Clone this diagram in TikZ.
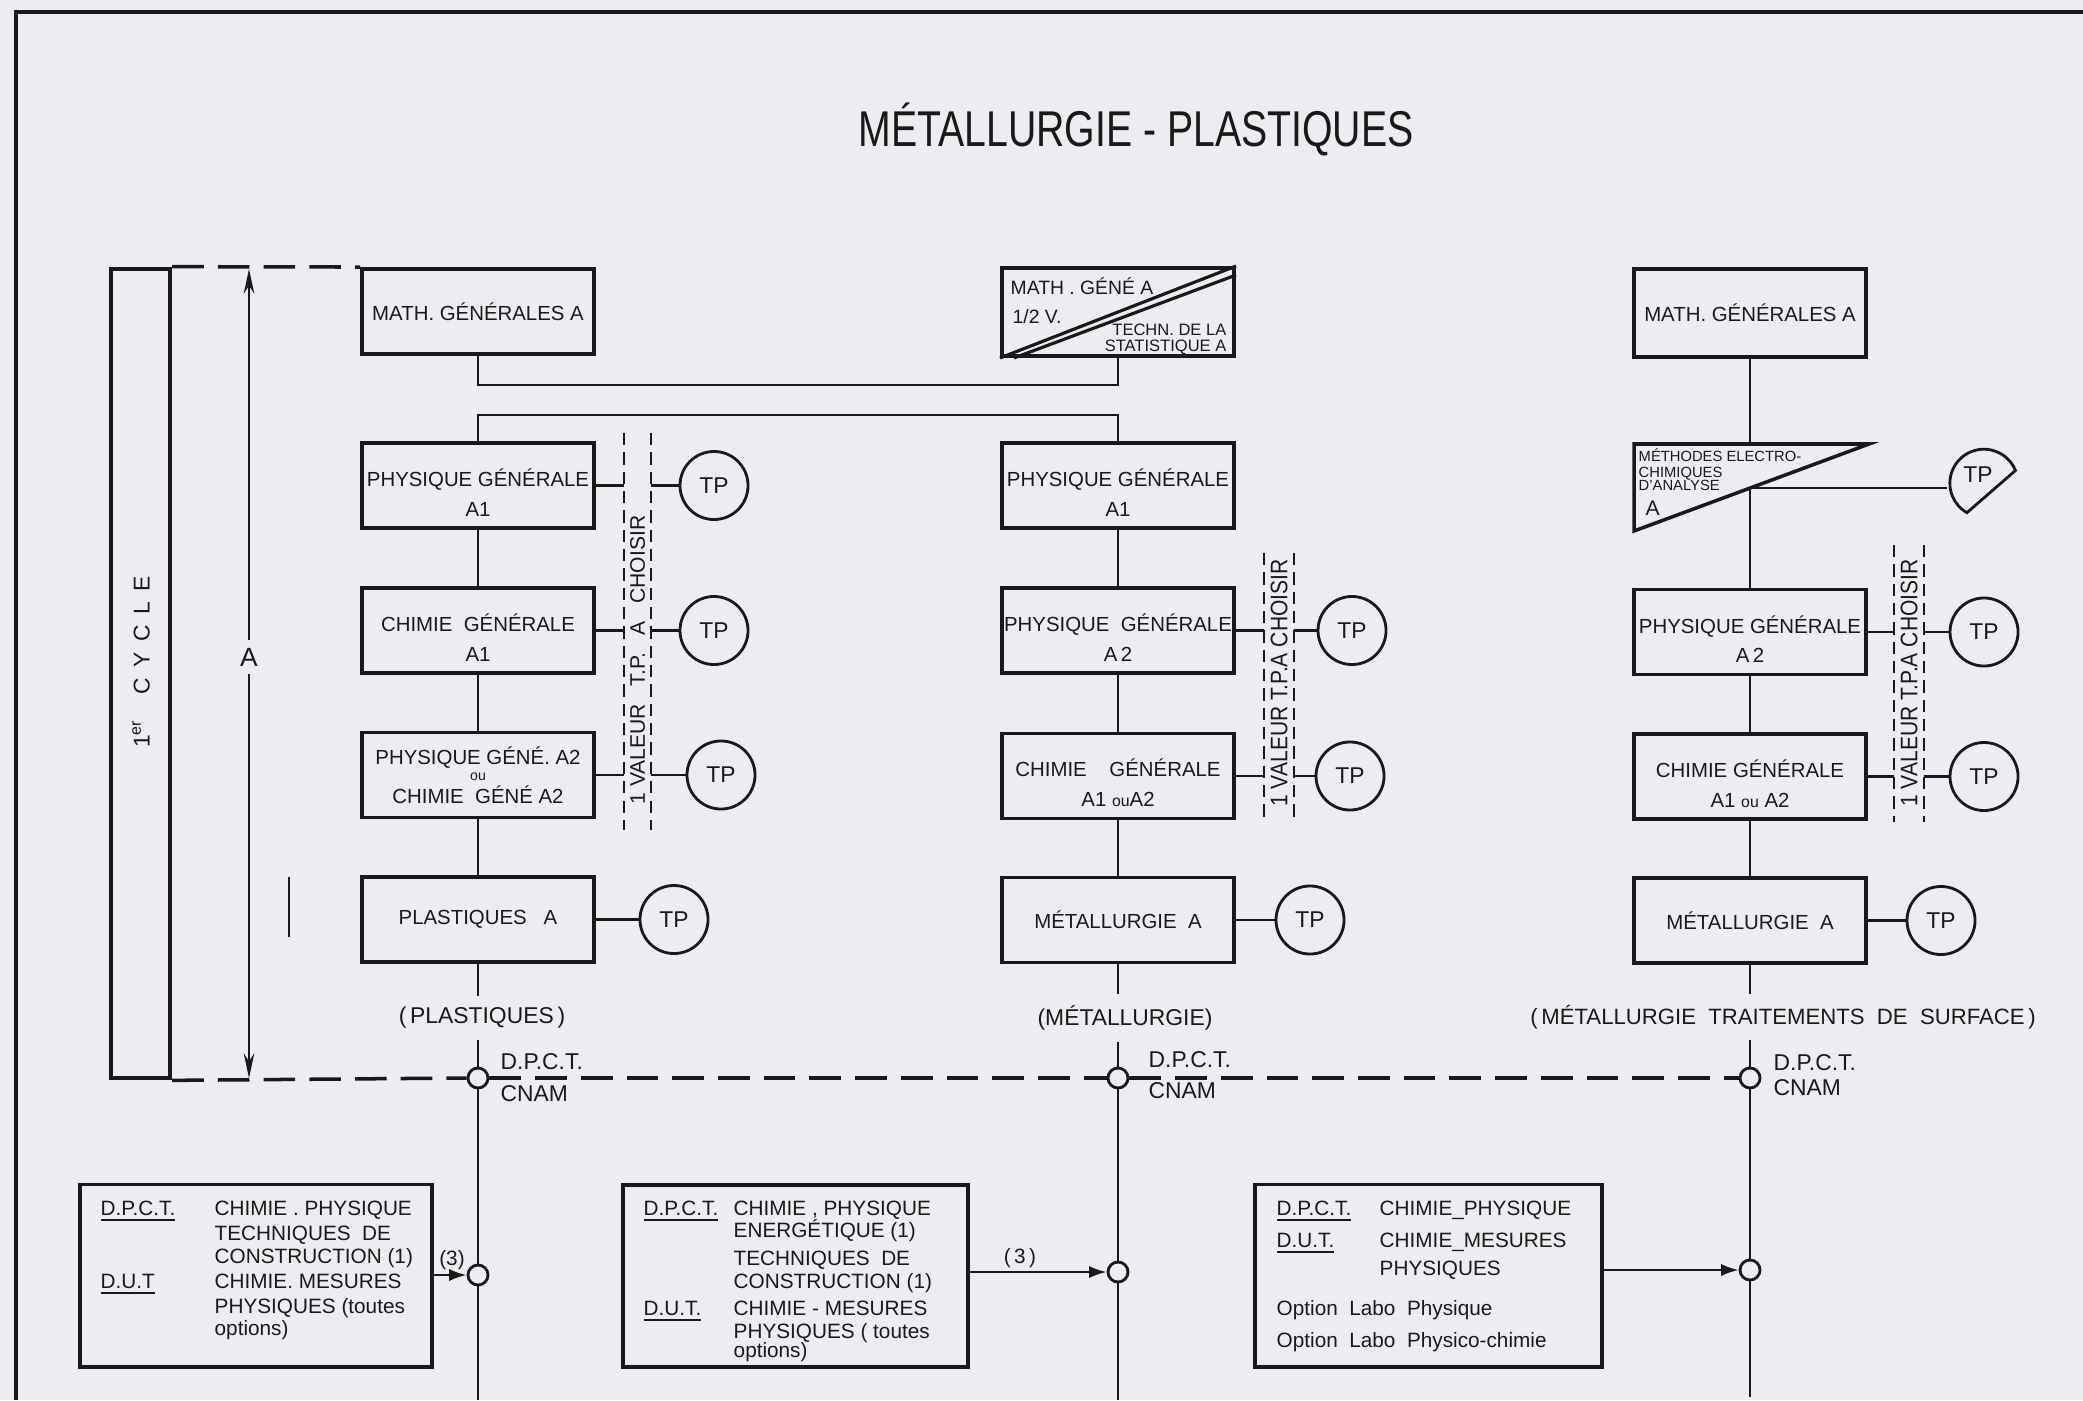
\documentclass[tikz,border=0pt]{standalone}
\usepackage{fontspec}
\setmainfont{Liberation Sans}
\newfontfamily\condf{Liberation Sans}[FakeStretch=0.78]
\newfontfamily\brf{Liberation Sans}[FakeStretch=0.88]
\usetikzlibrary{arrows.meta,calc}
\definecolor{bg}{RGB}{237,236,240}
\definecolor{ink}{RGB}{25,25,25}
\newcommand\fsz[2]{\fontsize{#1}{#2}\selectfont}
\newcommand\tstrut{\rule{0pt}{9pt}}
\begin{document}
\begin{tikzpicture}[x=0.01cm,y=-0.01cm,
  every node/.style={text=ink, inner sep=0pt},
  cbox/.style={draw=ink, line width=1.1pt, minimum width=2.32cm, minimum height=0.85cm, align=center, font=\fsz{5.8}{8.4}},
  tpc/.style={draw=ink, circle, line width=0.8pt, minimum size=0.68cm, font=\fsz{6.5}{7}},
  junc/.style={draw=ink, circle, minimum size=0.2cm, fill=bg, line width=0.8pt},
  conn/.style={draw=ink, line width=0.7pt},
  brk/.style={draw=ink, line width=0.6pt, dash pattern=on 3.5pt off 2pt},
  mdash/.style={draw=ink, line width=1pt, dash pattern=on 9pt off 4pt},
  lbl/.style={font=\fsz{6.5}{7}},
  clab/.style={font=\fsz{6.5}{7}, inner sep=3pt},
  btxt/.style={font=\fsz{5.9}{7}, anchor=base west},
  bbox/.style={draw=ink, line width=1.1pt, minimum height=1.82cm},
]
\path[use as bounding box, fill=bg] (0,0) rectangle (2083,1400);

% borders
\coordinate (bl) at (16,1400);
\coordinate (tl) at (16,12);
\coordinate (tr) at (2083,12);
\draw[ink, line width=1.3pt] (bl) -- (tl) -- (tr);

% title
\node[font=\condf\fsz{14.3}{16}] (title) at (1136,129) {MÉTALLURGIE - PLASTIQUES};

% 1er cycle bar
\node[draw=ink, line width=1.2pt, minimum width=0.59cm, minimum height=8.09cm] (cyc) at (140.5,673.5) {};
\node[rotate=90, font=\fsz{6.5}{7}] (cyct) at (141,662) {1\textsuperscript{er}\hspace{7pt}C\hspace{3pt}Y\hspace{3pt}C\hspace{3pt}L\hspace{3pt}E};

% arrow A
\node[font=\fsz{7.5}{8}, inner sep=2pt] (alab) at (249,657) {A};
\coordinate (atop) at (249,269);
\coordinate (abot) at (249,1078);
\draw[conn, -{Stealth[length=7pt,width=3pt]}] (alab.north) -- (atop);
\draw[conn, -{Stealth[length=7pt,width=3pt]}] (alab.south) -- (abot);
\coordinate (s1) at (289,877);
\coordinate (s2) at (289,937);
\draw[conn] (s1) -- (s2);

% column 1
\node[cbox] (m1) at (478,311.5) {MATH. GÉNÉRALES A};
\node[cbox] (p1a) at (478,485.5) {\tstrut PHYSIQUE GÉNÉRALE\\A1};
\node[cbox] (c1a) at (478,630.5) {\tstrut CHIMIE\ \ GÉNÉRALE\\A1};
\node[cbox] (pc1) at (478,775) {};
\node[font=\fsz{5.8}{6}] (pc1a) at (478,758) {PHYSIQUE GÉNÉ. A2};
\node[font=\fsz{4}{4}] (pc1b) at (478,777) {ou};
\node[font=\fsz{5.8}{6}] (pc1c) at (478,795) {CHIMIE\ \ GÉNÉ A2};
\node[cbox] (pl1) at (478,919.5) {PLASTIQUES\ \ \ A};

\node[tpc] (tp1a) at (714,485.5) {TP};
\node[tpc] (tp1b) at (714,630.5) {TP};
\node[tpc] (tp1c) at (721,775) {TP};
\node[tpc] (tp1d) at (674,919.5) {TP};

\coordinate (b1t) at (624,433);
\coordinate (b1b) at (624,830);
\coordinate (b1u) at (651,433);
\coordinate (b1v) at (651,830);
\draw[brk] (b1t) -- (b1b);
\draw[brk] (b1u) -- (b1v);
\node[rotate=90, font=\fsz{6}{7}] (v1) at (637.5,660) {1 VALEUR\hspace{5pt}T.P.\hspace{5pt}A\hspace{5pt}CHOISIR};
\foreach \b/\t in {p1a/tp1a, c1a/tp1b, pc1/tp1c} {
  \draw[conn] (\b.east) -- (\b.east -| b1t);
  \draw[conn] (\b.east -| b1u) -- (\t.west);
}
\draw[conn] (pl1.east) -- (tp1d.west);

% column 2
\node[cbox, minimum height=0.88cm] (m2) at (1118,312) {};
\draw[ink, line width=0.9pt] (m2.south west) -- (m2.north east);
\draw[ink, line width=0.9pt] ($(m2.south west)+(14,0)$) -- ($(m2.north east)+(0,9)$);
\node[font=\fsz{5.5}{6}, anchor=base west] (m2a) at (1010,294) {MATH . GÉNÉ A};
\node[font=\fsz{5.5}{6}, anchor=base west] (m2b) at (1012,323) {1/2 V.};
\node[font=\fsz{4.7}{5}, anchor=base east] (m2c) at (1227,335) {TECHN. DE LA};
\node[font=\fsz{4.7}{5}, anchor=base east] (m2d) at (1227,351) {STATISTIQUE A};
\node[cbox] (p2a) at (1118,485.5) {\tstrut PHYSIQUE GÉNÉRALE\\A1};
\node[cbox] (p2b) at (1118,630.5) {\tstrut PHYSIQUE\ \ GÉNÉRALE\\A\,2};
\node[cbox] (c2) at (1118,776) {\tstrut CHIMIE\ \ \ \ GÉNÉRALE\\A1 {\fsz{4.5}{5}ou}A2};
\node[cbox] (mt2) at (1118,920) {MÉTALLURGIE\ \ A};

\node[tpc] (tp2a) at (1352,630.5) {TP};
\node[tpc] (tp2b) at (1350,776) {TP};
\node[tpc] (tp2c) at (1310,920) {TP};

\coordinate (b2t) at (1264,553);
\coordinate (b2b) at (1264,820);
\coordinate (b2u) at (1294,553);
\coordinate (b2v) at (1294,820);
\draw[brk] (b2t) -- (b2b);
\draw[brk] (b2u) -- (b2v);
\node[rotate=90, font=\brf\fsz{6.8}{7}] (v2) at (1279,683) {1 VALEUR T.P.A CHOISIR};
\foreach \b/\t in {p2b/tp2a, c2/tp2b} {
  \draw[conn] (\b.east) -- (\b.east -| b2t);
  \draw[conn] (\b.east -| b2u) -- (\t.west);
}
\draw[conn] (mt2.east) -- (tp2c.west);

% brackets joining columns 1 and 2
\coordinate (k1) at (478,385);
\coordinate (k2) at (1118,385);
\coordinate (k3) at (478,415);
\coordinate (k4) at (1118,415);
\draw[conn] (m1.south) -- (k1) -- (k2) -- (m2.south);
\draw[conn] (p1a.north) -- (k3) -- (k4) -- (p2a.north);

% column 3
\node[cbox, minimum height=0.88cm] (m3) at (1750,313) {MATH. GÉNÉRALES A};
\coordinate (t1) at (1634,444);
\coordinate (t2) at (1869,444);
\coordinate (t3) at (1634,531);
\coordinate (hyp) at (1750,488);
\draw[ink, line width=1pt] (t1) -- (t2) -- (t3) -- cycle;
\node[font=\fsz{4.2}{4.5}, anchor=base west] (tx1) at (1638,461) {MÉTHODES ELECTRO-};
\node[font=\fsz{4.2}{4.5}, anchor=base west] (tx2) at (1638,477) {CHIMIQUES};
\node[font=\fsz{4.2}{4.5}, anchor=base west] (tx3) at (1638,490) {D'ANALYSE};
\node[font=\fsz{6}{6}, anchor=base west] (tx4) at (1645,515) {A};
\node[circle, minimum size=0.68cm] (tp3a) at (1982,484) {};
\node[font=\fsz{6.5}{7}] (tp3t) at (1978,475) {TP};
\draw[ink, line width=0.8pt] (tp3a.center) ++(22:0.36cm) arc[start angle=22, end angle=240, radius=0.34cm] -- cycle;
\draw[conn] (hyp) -- (hyp -| tp3a.west);

\node[cbox] (p3) at (1750,632) {\tstrut PHYSIQUE\ GÉNÉRALE\\A\,2};
\node[cbox] (c3) at (1750,776.5) {\tstrut CHIMIE\ GÉNÉRALE\\A1 {\fsz{4.5}{5}ou} A2};
\node[cbox] (mt3) at (1750,920.5) {MÉTALLURGIE\ \ A};

\node[tpc] (tp3b) at (1984,632) {TP};
\node[tpc] (tp3c) at (1984,776.5) {TP};
\node[tpc] (tp3d) at (1941,920.5) {TP};

\coordinate (b3t) at (1894,545);
\coordinate (b3b) at (1894,822);
\coordinate (b3u) at (1924,545);
\coordinate (b3v) at (1924,822);
\draw[brk] (b3t) -- (b3b);
\draw[brk] (b3u) -- (b3v);
\node[rotate=90, font=\brf\fsz{6.8}{7}] (v3) at (1909,683) {1 VALEUR T.P.A CHOISIR};
\foreach \b/\t in {p3/tp3b, c3/tp3c} {
  \draw[conn] (\b.east) -- (\b.east -| b3t);
  \draw[conn] (\b.east -| b3u) -- (\t.west);
}
\draw[conn] (mt3.east) -- (tp3d.west);

% labels under columns
\node[clab] (lab1) at (482,1018) {(\,PLASTIQUES\,)};
\node[clab] (lab2) at (1125,1018) {(MÉTALLURGIE)};
\node[clab, font=\fsz{6.3}{7}] (lab3) at (1783,1017) {(\,MÉTALLURGIE\ \ TRAITEMENTS\ \ DE\ \ SURFACE\,)};

% junctions
\node[junc] (j1) at (478,1078) {};
\node[junc] (j2) at (1118,1078) {};
\node[junc] (j3) at (1750,1078) {};
\node[junc] (bj1) at (478,1275) {};
\node[junc] (bj2) at (1118,1272) {};
\node[junc] (bj3) at (1750,1270) {};
\coordinate (e1) at (478,1400);
\coordinate (e2) at (1118,1400);
\coordinate (e3) at (1750,1397);

\node[lbl, anchor=west] (d1) at (500,1062) {D.P.C.T.};
\node[lbl, anchor=west] (n1) at (500,1094) {CNAM};
\node[lbl, anchor=west] (d2) at (1148,1060) {D.P.C.T.};
\node[lbl, anchor=west] (n2) at (1148,1091) {CNAM};
\node[lbl, anchor=west] (d3) at (1773,1063) {D.P.C.T.};
\node[lbl, anchor=west] (n3) at (1773,1088) {CNAM};

% dashed lines
\draw[mdash] (cyc.north east) -- (m1.north west);
\draw[mdash] (cyc.south east) -- (j1.west);
\draw[mdash] (j1.east) -- (j2.west);
\draw[mdash] (j2.east) -- (j3.west);

% column verticals
\draw[conn] (p1a.south) -- (c1a.north) (c1a.south) -- (pc1.north) (pc1.south) -- (pl1.north)
  (pl1.south) -- (pl1.south |- lab1.north) (pl1.south |- lab1.south) -- (j1.north)
  (j1.south) -- (bj1.north) (bj1.south) -- (e1);
\draw[conn] (p2a.south) -- (p2b.north) (p2b.south) -- (c2.north) (c2.south) -- (mt2.north)
  (mt2.south) -- (mt2.south |- lab2.north) (mt2.south |- lab2.south) -- (j2.north)
  (j2.south) -- (bj2.north) (bj2.south) -- (e2);
\draw[conn] (m3.south) -- (m3.south |- t1) (hyp) -- (p3.north) (p3.south) -- (c3.north) (c3.south) -- (mt3.north)
  (mt3.south) -- (mt3.south |- lab3.north) (mt3.south |- lab3.south) -- (j3.north)
  (j3.south) -- (bj3.north) (bj3.south) -- (e3);

% bottom boxes
\node[bbox, minimum width=3.52cm] (bb1) at (256,1275.5) {};
\node[bbox, minimum width=3.45cm] (bb2) at (795.5,1276) {};
\node[bbox, minimum width=3.47cm] (bb3) at (1428.5,1275.5) {};

\node[btxt] (bb1l1) at (100,1215) {\underline{D.P.C.T.}};
\node[btxt] (bb1l2) at (100,1288) {\underline{D.U.T}};
\foreach \yy/\t in {1215/{CHIMIE . PHYSIQUE}, 1240/{TECHNIQUES\ \ DE}, 1263/{CONSTRUCTION (1)}, 1288/{CHIMIE. MESURES}, 1313/{PHYSIQUES (toutes}, 1335/{options)}}
  \node[btxt] (bb1c\yy) at (214,\yy) {\t};

\node[btxt] (bb2l1) at (643,1215) {\underline{D.P.C.T.}};
\node[btxt] (bb2l2) at (643,1315) {\underline{D.U.T.}};
\foreach \yy/\t in {1215/{CHIMIE , PHYSIQUE}, 1237/{ENERGÉTIQUE (1)}, 1265/{TECHNIQUES\ \ DE}, 1288/{CONSTRUCTION (1)}, 1315/{CHIMIE - MESURES}, 1338/{PHYSIQUES ( toutes}, 1357/{options)}}
  \node[btxt] (bb2c\yy) at (733,\yy) {\t};

\node[btxt] (bb3l1) at (1276,1215) {\underline{D.P.C.T.}};
\node[btxt] (bb3l2) at (1276,1247) {\underline{D.U.T.}};
\foreach \yy/\t in {1215/{CHIMIE\_PHYSIQUE}, 1247/{CHIMIE\_MESURES}, 1275/{PHYSIQUES}}
  \node[btxt] (bb3c\yy) at (1379,\yy) {\t};
\node[btxt] (bb3o1) at (1276,1315) {Option\ \ Labo\ \ Physique};
\node[btxt] (bb3o2) at (1276,1347) {Option\ \ Labo\ \ Physico-chimie};

\node[font=\fsz{5.9}{7}] (n3a) at (452,1260) {(3)};
\node[font=\fsz{5.9}{7}] (n3b) at (1020,1258) {(\,3\,)};
\draw[conn, -{Latex[length=5pt,width=3.5pt]}] (bb1.east |- bj1) -- (bj1.west);
\draw[conn, -{Latex[length=5pt,width=3.5pt]}] (bb2.east |- bj2) -- (bj2.west);
\draw[conn, -{Latex[length=5pt,width=3.5pt]}] (bb3.east |- bj3) -- (bj3.west);
\end{tikzpicture}
\end{document}
